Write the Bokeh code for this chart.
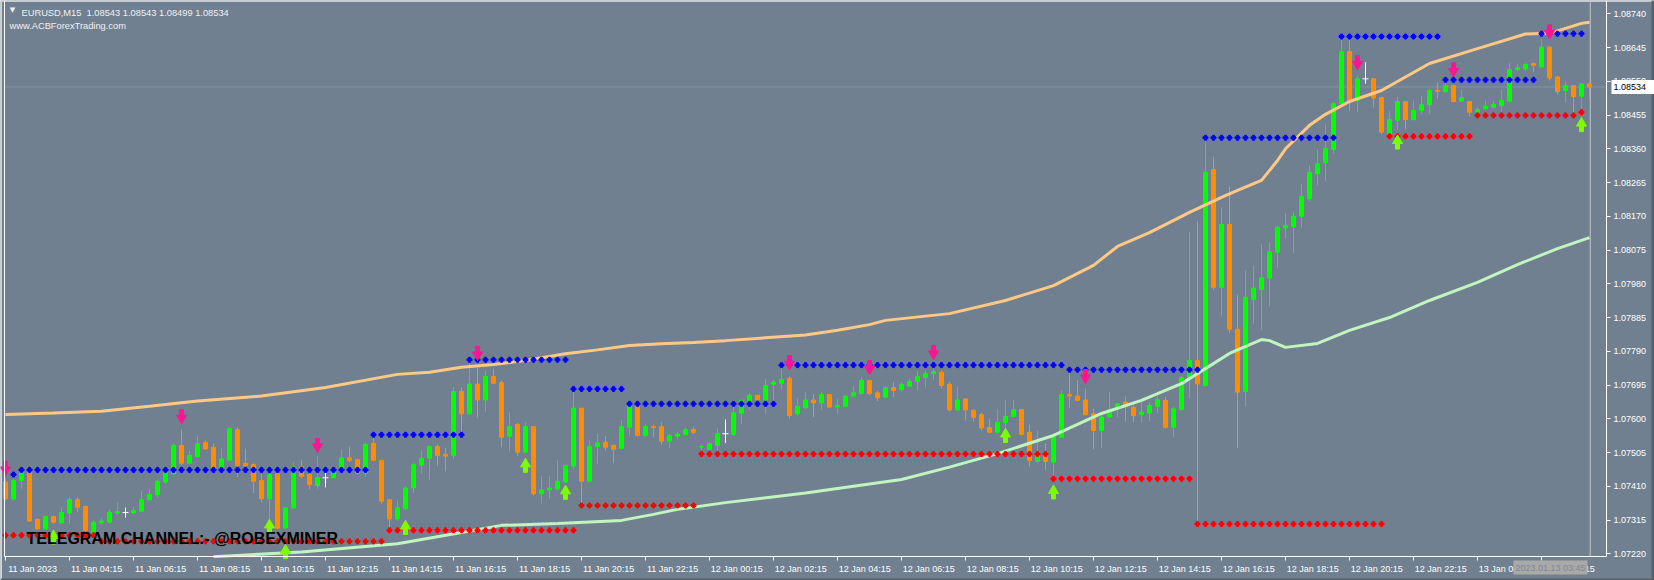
from bokeh.plotting import figure
from bokeh.models import (ColumnDataSource, FixedTicker, PrintfTickFormatter, Label,
                          LinearAxis)
from bokeh.embed import file_html
from bokeh.resources import INLINE

# ---------------- data (EURUSD M15, bars from 11 Jan 2023 02:15) ----------------
bar_open = [
    1.07422, 1.07374, 1.07426, 1.07450, 1.07317, 1.07290, 1.07325, 1.07307, 1.07335, 1.07373,
    1.07353, 1.07272, 1.07307, 1.07309, 1.07335, 1.07336, 1.07335, 1.07340, 1.07372, 1.07386,
    1.07422, 1.07445, 1.07525, 1.07475, 1.07494, 1.07533, 1.07520, 1.07457, 1.07483, 1.07569,
    1.07475, 1.07471, 1.07426, 1.07375, 1.07445, 1.07293, 1.07349, 1.07464, 1.07443, 1.07412,
    1.07434, 1.07434, 1.07452, 1.07490, 1.07485, 1.07447, 1.07531, 1.07483, 1.07372, 1.07318,
    1.07347, 1.07406, 1.07470, 1.07489, 1.07522, 1.07500, 1.07497, 1.07677, 1.07614, 1.07698,
    1.07653, 1.07719, 1.07702, 1.07551, 1.07584, 1.07506, 1.07578, 1.07389, 1.07400, 1.07403,
    1.07422, 1.07467, 1.07630, 1.07424, 1.07522, 1.07534, 1.07525, 1.07517, 1.07576, 1.07635,
    1.07553, 1.07578, 1.07578, 1.07537, 1.07551, 1.07556, 1.07570, 1.07520, 1.07514, 1.07525,
    1.07558, 1.07556, 1.07616, 1.07645, 1.07666, 1.07653, 1.07697, 1.07700, 1.07714, 1.07614,
    1.07631, 1.07653, 1.07645, 1.07668, 1.07633, 1.07635, 1.07664, 1.07671, 1.07708, 1.07673,
    1.07661, 1.07688, 1.07682, 1.07692, 1.07705, 1.07716, 1.07727, 1.07731, 1.07697, 1.07625,
    1.07656, 1.07624, 1.07612, 1.07575, 1.07562, 1.07589, 1.07607, 1.07626, 1.07562, 1.07480,
    1.07506, 1.07478, 1.07548, 1.07668, 1.07664, 1.07653, 1.07614, 1.07567, 1.07605, 1.07628,
    1.07647, 1.07632, 1.07612, 1.07616, 1.07635, 1.07652, 1.07576, 1.07626, 1.07717, 1.07764,
    1.07694, 1.08302, 1.07970, 1.08147, 1.07852, 1.07677, 1.07936, 1.07964, 1.07996, 1.08069,
    1.08137, 1.08141, 1.08170, 1.08219, 1.08290, 1.08321, 1.08358, 1.08487, 1.08634, 1.08496,
    1.08557, 1.08557, 1.08504, 1.08402, 1.08440, 1.08493, 1.08442, 1.08468, 1.08484, 1.08524,
    1.08521, 1.08538, 1.08494, 1.08493, 1.08463, 1.08473, 1.08477, 1.08482, 1.08494, 1.08583,
    1.08585, 1.08600, 1.08590, 1.08646, 1.08562, 1.08524, 1.08538, 1.08508, 1.08543]
bar_high = [
    1.07432, 1.07432, 1.07452, 1.07454, 1.07319, 1.07328, 1.07328, 1.07351, 1.07379, 1.07379,
    1.07356, 1.07314, 1.07321, 1.07344, 1.07365, 1.07350, 1.07351, 1.07398, 1.07403, 1.07428,
    1.07459, 1.07531, 1.07569, 1.07511, 1.07553, 1.07539, 1.07530, 1.07516, 1.07576, 1.07576,
    1.07516, 1.07475, 1.07445, 1.07447, 1.07450, 1.07351, 1.07478, 1.07483, 1.07447, 1.07494,
    1.07450, 1.07459, 1.07513, 1.07522, 1.07488, 1.07534, 1.07558, 1.07485, 1.07374, 1.07370,
    1.07410, 1.07475, 1.07511, 1.07525, 1.07528, 1.07519, 1.07689, 1.07689, 1.07766, 1.07745,
    1.07736, 1.07741, 1.07708, 1.07619, 1.07588, 1.07590, 1.07578, 1.07440, 1.07440, 1.07485,
    1.07469, 1.07677, 1.07630, 1.07539, 1.07558, 1.07551, 1.07528, 1.07597, 1.07642, 1.07635,
    1.07584, 1.07584, 1.07590, 1.07558, 1.07562, 1.07575, 1.07576, 1.07528, 1.07534, 1.07574,
    1.07598, 1.07652, 1.07654, 1.07672, 1.07668, 1.07713, 1.07710, 1.07751, 1.07719, 1.07659,
    1.07675, 1.07670, 1.07675, 1.07670, 1.07656, 1.07666, 1.07692, 1.07716, 1.07710, 1.07679,
    1.07692, 1.07703, 1.07703, 1.07713, 1.07736, 1.07736, 1.07745, 1.07736, 1.07703, 1.07691,
    1.07658, 1.07626, 1.07617, 1.07600, 1.07628, 1.07652, 1.07653, 1.07628, 1.07584, 1.07567,
    1.07531, 1.07553, 1.07680, 1.07738, 1.07710, 1.07685, 1.07628, 1.07614, 1.07677, 1.07644,
    1.07663, 1.07640, 1.07647, 1.07647, 1.07666, 1.07661, 1.07633, 1.07722, 1.08127, 1.08156,
    1.08391, 1.08338, 1.08196, 1.08254, 1.07950, 1.08018, 1.08032, 1.08091, 1.08097, 1.08144,
    1.08179, 1.08182, 1.08260, 1.08313, 1.08358, 1.08428, 1.08491, 1.08676, 1.08665, 1.08566,
    1.08604, 1.08560, 1.08507, 1.08466, 1.08507, 1.08494, 1.08496, 1.08510, 1.08529, 1.08547,
    1.08554, 1.08540, 1.08526, 1.08494, 1.08476, 1.08496, 1.08494, 1.08526, 1.08601, 1.08600,
    1.08601, 1.08604, 1.08670, 1.08651, 1.08566, 1.08550, 1.08540, 1.08544, 1.08543]
bar_low = [
    1.07370, 1.07370, 1.07403, 1.07310, 1.07288, 1.07288, 1.07305, 1.07305, 1.07304, 1.07337,
    1.07270, 1.07255, 1.07302, 1.07304, 1.07328, 1.07322, 1.07333, 1.07337, 1.07370, 1.07379,
    1.07417, 1.07443, 1.07469, 1.07473, 1.07492, 1.07513, 1.07455, 1.07455, 1.07481, 1.07436,
    1.07464, 1.07391, 1.07365, 1.07300, 1.07290, 1.07290, 1.07347, 1.07434, 1.07401, 1.07403,
    1.07407, 1.07432, 1.07451, 1.07478, 1.07443, 1.07436, 1.07480, 1.07361, 1.07290, 1.07314,
    1.07342, 1.07391, 1.07445, 1.07428, 1.07467, 1.07452, 1.07487, 1.07562, 1.07612, 1.07603,
    1.07619, 1.07698, 1.07520, 1.07508, 1.07494, 1.07504, 1.07384, 1.07362, 1.07375, 1.07398,
    1.07419, 1.07459, 1.07356, 1.07422, 1.07473, 1.07511, 1.07475, 1.07516, 1.07553, 1.07550,
    1.07548, 1.07548, 1.07527, 1.07517, 1.07542, 1.07553, 1.07556, 1.07511, 1.07511, 1.07506,
    1.07532, 1.07553, 1.07586, 1.07625, 1.07652, 1.07614, 1.07642, 1.07682, 1.07600, 1.07609,
    1.07628, 1.07605, 1.07625, 1.07631, 1.07614, 1.07633, 1.07662, 1.07670, 1.07666, 1.07650,
    1.07659, 1.07661, 1.07677, 1.07689, 1.07680, 1.07688, 1.07710, 1.07685, 1.07621, 1.07621,
    1.07595, 1.07593, 1.07567, 1.07560, 1.07557, 1.07560, 1.07605, 1.07553, 1.07466, 1.07478,
    1.07455, 1.07436, 1.07547, 1.07631, 1.07650, 1.07609, 1.07514, 1.07517, 1.07603, 1.07605,
    1.07592, 1.07590, 1.07590, 1.07593, 1.07616, 1.07572, 1.07548, 1.07623, 1.07658, 1.07305,
    1.07694, 1.07963, 1.07888, 1.07841, 1.07517, 1.07635, 1.07867, 1.07849, 1.07916, 1.08024,
    1.08107, 1.08066, 1.08138, 1.08213, 1.08257, 1.08268, 1.08346, 1.08485, 1.08466, 1.08463,
    1.08543, 1.08476, 1.08402, 1.08397, 1.08412, 1.08414, 1.08440, 1.08457, 1.08457, 1.08501,
    1.08517, 1.08491, 1.08493, 1.08451, 1.08461, 1.08470, 1.08473, 1.08463, 1.08491, 1.08578,
    1.08578, 1.08576, 1.08588, 1.08552, 1.08513, 1.08491, 1.08459, 1.08468, 1.08499]
bar_close = [
    1.07375, 1.07426, 1.07450, 1.07312, 1.07290, 1.07325, 1.07309, 1.07336, 1.07373, 1.07351,
    1.07286, 1.07309, 1.07312, 1.07337, 1.07339, 1.07336, 1.07342, 1.07373, 1.07387, 1.07424,
    1.07450, 1.07525, 1.07475, 1.07497, 1.07530, 1.07515, 1.07459, 1.07487, 1.07573, 1.07469,
    1.07468, 1.07424, 1.07375, 1.07443, 1.07292, 1.07350, 1.07464, 1.07438, 1.07415, 1.07434,
    1.07434, 1.07452, 1.07490, 1.07483, 1.07447, 1.07528, 1.07483, 1.07368, 1.07318, 1.07350,
    1.07405, 1.07471, 1.07489, 1.07522, 1.07497, 1.07495, 1.07677, 1.07614, 1.07698, 1.07653,
    1.07719, 1.07700, 1.07548, 1.07578, 1.07506, 1.07578, 1.07389, 1.07400, 1.07405, 1.07424,
    1.07469, 1.07630, 1.07424, 1.07522, 1.07532, 1.07520, 1.07514, 1.07578, 1.07635, 1.07553,
    1.07578, 1.07575, 1.07537, 1.07553, 1.07556, 1.07570, 1.07562, 1.07522, 1.07530, 1.07558,
    1.07558, 1.07617, 1.07652, 1.07666, 1.07654, 1.07694, 1.07703, 1.07711, 1.07609, 1.07635,
    1.07653, 1.07645, 1.07668, 1.07633, 1.07637, 1.07664, 1.07673, 1.07708, 1.07671, 1.07659,
    1.07688, 1.07680, 1.07697, 1.07705, 1.07719, 1.07727, 1.07733, 1.07694, 1.07625, 1.07653,
    1.07625, 1.07604, 1.07574, 1.07562, 1.07590, 1.07607, 1.07626, 1.07556, 1.07483, 1.07506,
    1.07480, 1.07550, 1.07668, 1.07664, 1.07652, 1.07612, 1.07567, 1.07605, 1.07625, 1.07642,
    1.07635, 1.07609, 1.07619, 1.07637, 1.07654, 1.07576, 1.07628, 1.07716, 1.07764, 1.07698,
    1.08294, 1.07970, 1.08147, 1.07852, 1.07675, 1.07942, 1.07968, 1.07997, 1.08071, 1.08139,
    1.08144, 1.08170, 1.08226, 1.08294, 1.08318, 1.08361, 1.08487, 1.08634, 1.08494, 1.08557,
    1.08557, 1.08503, 1.08407, 1.08442, 1.08493, 1.08442, 1.08468, 1.08484, 1.08524, 1.08522,
    1.08538, 1.08493, 1.08504, 1.08463, 1.08471, 1.08479, 1.08485, 1.08496, 1.08583, 1.08588,
    1.08597, 1.08595, 1.08646, 1.08559, 1.08521, 1.08538, 1.08507, 1.08543, 1.08534]

# upper (orange) moving average, read at selected bars
ma_upper_idx = [0, 6, 12, 18, 24, 32, 40, 49, 53, 57, 61, 65, 70, 74, 78, 82, 86, 90, 95, 100,
                104, 108, 110, 118, 125, 131, 136, 139, 143, 148, 152, 154, 157, 159, 160, 163,
                165, 168, 172, 178, 184, 190, 193, 197, 198]
ma_upper_val = [1.07612, 1.07616, 1.07621, 1.07635, 1.07650, 1.07664, 1.07688, 1.07725, 1.07731,
                1.07745, 1.07753, 1.07764, 1.07783, 1.07794, 1.07806, 1.07811, 1.07815, 1.07820,
                1.07828, 1.07836, 1.07849, 1.07865, 1.07877, 1.07896, 1.07933, 1.07975, 1.08032,
                1.08085, 1.08124, 1.08181, 1.08223, 1.08243, 1.08271, 1.08327, 1.08360, 1.08426,
                1.08457, 1.08493, 1.08524, 1.08600, 1.08642, 1.08683, 1.08685, 1.08713, 1.08716]
# lower (pale green) moving average
ma_lower_idx = [26, 37, 49, 57, 62, 69, 77, 81, 84, 90, 100, 112, 118, 124, 131, 137, 142, 147,
                153, 157, 158, 160, 164, 168, 173, 178, 184, 189, 194, 198]
ma_lower_val = [1.07212, 1.07225, 1.07248, 1.07280, 1.07300, 1.07305, 1.07314, 1.07331,
                1.07345, 1.07364, 1.07391, 1.07429, 1.07464, 1.07502, 1.07553, 1.07615, 1.07652,
                1.07699, 1.07784, 1.07823, 1.07820, 1.07801, 1.07812, 1.07849, 1.07885, 1.07933,
                1.07984, 1.08034, 1.08079, 1.08110]

# resistance (blue dots) and support (red dots) segments: first bar, last bar, level
res_start = [1, 2, 46, 58, 71, 78, 97, 133, 150, 167, 180, 192]
res_end = [1, 45, 57, 70, 77, 96, 132, 149, 166, 179, 191, 197]
res_level = [1.07443, 1.07456, 1.07555, 1.07766, 1.07684, 1.07642, 1.07751, 1.07738, 1.08391,
             1.08676, 1.08554, 1.08684]
sup_start = [0, 12, 48, 72, 87, 131, 149, 173, 184, 197]
sup_end = [11, 47, 71, 86, 130, 148, 172, 183, 196, 197]
sup_level = [1.07272, 1.07255, 1.07286, 1.07356, 1.07501, 1.07431, 1.07304, 1.08395, 1.08454,
             1.08463]

# signal arrows
sell_idx = [0, 22, 39, 59, 98, 108, 116, 135, 169, 181, 193]
sell_val = [1.07460, 1.07606, 1.07525, 1.07784, 1.07758, 1.07744, 1.07787, 1.07719, 1.08602,
            1.08582, 1.08689]
buy_idx = [6, 33, 35, 50, 65, 70, 125, 131, 174, 197]
buy_val = [1.07267, 1.07297, 1.07226, 1.07294, 1.07469, 1.07393, 1.07553, 1.07394, 1.08379,
           1.08428]

price_ticks = [1.07220, 1.07315, 1.07410, 1.07505, 1.07600, 1.07695, 1.07790, 1.07885, 1.07980,
               1.08075, 1.08170, 1.08265, 1.08360, 1.08455, 1.08550, 1.08645, 1.08740]
time_tick_idx = [0, 8, 16, 24, 32, 40, 48, 56, 64, 72, 80, 88, 96, 104, 112, 120, 128, 136, 144,
                 152, 160, 168, 176, 184, 192]
time_labels = ["11 Jan 2023", "11 Jan 04:15", "11 Jan 06:15", "11 Jan 08:15", "11 Jan 10:15",
               "11 Jan 12:15", "11 Jan 14:15", "11 Jan 16:15", "11 Jan 18:15", "11 Jan 20:15",
               "11 Jan 22:15", "12 Jan 00:15", "12 Jan 02:15", "12 Jan 04:15", "12 Jan 06:15",
               "12 Jan 08:15", "12 Jan 10:15", "12 Jan 12:15", "12 Jan 14:15", "12 Jan 16:15",
               "12 Jan 18:15", "12 Jan 20:15", "12 Jan 22:15", "13 Jan 00:15", "13 Jan 02:15"]
last_price = 1.08534
last_bar = 198

# ---------------- figure ----------------
W, H = 1654, 580
BG = "#708090"
BULL = "#00ff00"
BEAR = "#ff8c00"
FONT = "Liberation Sans"

X0, X1 = -0.625, 206.125          # whole canvas, 8 px per bar
Y0, Y1 = 1.071448, 1.087774       # whole canvas
PX = (Y1 - Y0) / H                 # price per pixel
XPX = (X1 - X0) / W                # bars per pixel
CH_LEFT, CH_RIGHT = -0.125, 200.125   # chart frame (x)
CH_BOTTOM = 1.072124                  # chart frame bottom (price)

p = figure(width=W, height=H, output_backend="svg", toolbar_location=None,
           x_range=(X0, X1), y_range=(Y0, Y1),
           x_axis_location=None, y_axis_location=None,
           min_border=0, min_border_left=0, min_border_right=0,
           min_border_top=0, min_border_bottom=0,
           background_fill_color=BG, border_fill_color=BG, outline_line_color=None)
p.grid.visible = False

# window edges
p.segment(x0=[X0], y0=[Y1 - 0.6 * PX], x1=[X1], y1=[Y1 - 0.6 * PX], line_color="#dfe3e6",
          line_width=1.5, level="underlay")
p.segment(x0=[X0 + 0.6 * XPX], y0=[Y0], x1=[X0 + 0.6 * XPX], y1=[Y1], line_color="#dfe3e6",
          line_width=1.5, level="underlay")
p.segment(x0=[X1 - 1.5 * XPX], y0=[Y0], x1=[X1 - 1.5 * XPX], y1=[Y1], line_color="#56616b",
          line_width=3, level="underlay")
p.segment(x0=[X0], y0=[Y0 + 1 * PX], x1=[X1], y1=[Y0 + 1 * PX], line_color="#56616b",
          line_width=2, level="underlay")

# bid line and current-bar line
p.segment(x0=[CH_LEFT], y0=[last_price], x1=[CH_RIGHT], y1=[last_price],
          line_color="#8694a2", line_width=1, level="underlay")
p.segment(x0=[last_bar + 0.09], y0=[CH_BOTTOM], x1=[last_bar + 0.09], y1=[Y1],
          line_color="#c3c8cd", line_width=1, level="underlay")

# candles
n = len(bar_open)
xs = list(range(n))
cols = []
for o, c in zip(bar_open, bar_close):
    cols.append(BULL if c > o else (BEAR if c < o else "white"))
wick_src = ColumnDataSource(dict(x=xs, h=bar_high, l=bar_low, col=cols))
p.segment(x0="x", y0="l", x1="x", y1="h", line_color="col", line_width=1, source=wick_src)

bi = [i for i in xs if bar_open[i] != bar_close[i]]
body_src = ColumnDataSource(dict(
    x=bi,
    top=[max(bar_open[i], bar_close[i]) for i in bi],
    bot=[min(bar_open[i], bar_close[i]) for i in bi],
    col=[cols[i] for i in bi]))
p.vbar(x="x", width=0.5, top="top", bottom="bot", fill_color="col", line_color="col",
       line_width=1, source=body_src)
di = [i for i in xs if bar_open[i] == bar_close[i]]
p.scatter(di, [bar_close[i] for i in di], marker="dash", size=6,
          line_color="white", line_width=1)

# moving averages
p.line(ma_upper_idx, ma_upper_val, line_color="#ffc985", line_width=3)
p.line(ma_lower_idx, ma_lower_val, line_color="#c0f5c0", line_width=3)

# resistance / support dots
rx, ry, sx, sy = [], [], [], []
for s, e, lv in zip(res_start, res_end, res_level):
    for i in range(s, e + 1):
        rx.append(i)
        ry.append(lv)
for s, e, lv in zip(sup_start, sup_end, sup_level):
    for i in range(s, e + 1):
        sx.append(i)
        sy.append(lv)
p.scatter(rx, ry, marker="plus", size=5, color="#0000ff")
p.scatter(sx, sy, marker="plus", size=5, color="#ff0000")

# thick arrows: shaft (rect) + head (triangle)
SELL = "#ff1493"
BUY = "#7cfc00"
p.rect(sell_idx, [v + 3.5 * PX for v in sell_val], width=4, height=7,
       width_units="screen", height_units="screen", fill_color=SELL, line_color=SELL)
p.scatter(sell_idx, [v - 1.4 * PX for v in sell_val], marker="inverted_triangle", size=10,
          fill_color=SELL, line_color=SELL)
p.rect(buy_idx, [v - 3.5 * PX for v in buy_val], width=4, height=7,
       width_units="screen", height_units="screen", fill_color=BUY, line_color=BUY)
p.scatter(buy_idx, [v + 1.4 * PX for v in buy_val], marker="triangle", size=10,
          fill_color=BUY, line_color=BUY)

# axes (placed at the chart frame edges)
yax = LinearAxis(fixed_location=CH_RIGHT, bounds=(CH_BOTTOM, Y1),
                 ticker=FixedTicker(ticks=price_ticks),
                 formatter=PrintfTickFormatter(format="%.5f"))
yax.major_label_text_color = "white"
yax.major_label_text_font = FONT
yax.major_label_text_font_size = "9px"
yax.axis_line_color = "white"
yax.major_tick_line_color = "white"
yax.major_tick_out = 4
yax.major_tick_in = 0
yax.minor_tick_line_color = None
yax.major_label_standoff = 3
p.add_layout(yax, "right")

label_pos = [t + 3.4 for t in time_tick_idx]
xax = LinearAxis(fixed_location=CH_BOTTOM, bounds=(CH_LEFT, CH_RIGHT),
                 ticker=FixedTicker(ticks=label_pos, minor_ticks=time_tick_idx))
xax.major_label_overrides = {pos: lab for pos, lab in zip(label_pos, time_labels)}
xax.major_label_text_color = "white"
xax.major_label_text_font = FONT
xax.major_label_text_font_size = "9px"
xax.axis_line_color = "white"
xax.major_tick_line_color = None
xax.major_tick_out = 0
xax.major_tick_in = 0
xax.minor_tick_line_color = "white"
xax.minor_tick_out = 4
xax.minor_tick_in = 0
xax.major_label_standoff = 4
p.add_layout(xax, "below")

lax = LinearAxis(fixed_location=CH_LEFT, bounds=(CH_BOTTOM, Y1), ticker=FixedTicker(ticks=[]))
lax.axis_line_color = "white"
lax.major_tick_line_color = None
lax.minor_tick_line_color = None
lax.major_label_text_font_size = "0px"
p.add_layout(lax, "left")

# texts (screen units from the lower-left corner)
p.add_layout(Label(x=12, y=H - 9, x_units="screen", y_units="screen", text="\u25bc",
                   text_font="DejaVu Sans", text_font_size="7px", text_color="#f0f0f0",
                   text_align="center", text_baseline="middle"))
p.add_layout(Label(x=21, y=H - 12, x_units="screen", y_units="screen",
                   text="EURUSD,M15\u00a0\u00a01.08543 1.08543 1.08499 1.08534",
                   text_font=FONT, text_font_size="9.3px", text_color="#f0f0f0",
                   text_baseline="alphabetic"))
p.add_layout(Label(x=9, y=H - 25, x_units="screen", y_units="screen",
                   text="www.ACBForexTrading.com",
                   text_font=FONT, text_font_size="9.3px", text_color="#f0f0f0",
                   text_baseline="alphabetic"))
p.add_layout(Label(x=26, y=H - 538, x_units="screen", y_units="screen",
                   text="TELEGRAM CHANNEL:- @ROBEXMINER",
                   text_font=FONT, text_font_size="16px", text_font_style="bold",
                   text_color="black", text_baseline="alphabetic"))
p.add_layout(Label(x=1611, y=last_price, x_units="screen", y_units="data",
                   text="1.08534\u00a0\u00a0\u00a0",
                   text_font=FONT, text_font_size="9px", text_color="black",
                   text_baseline="middle", background_fill_color="white", padding=2))
p.add_layout(Label(x=1587, y=H - 567, x_units="screen", y_units="screen",
                   text="2023.01.13 03:45",
                   text_font=FONT, text_font_size="9px", text_color="#7d8892",
                   text_align="right", text_baseline="middle",
                   background_fill_color="#a9a9a9", padding=2))

open("out.html", "w").write(file_html(p, INLINE))
